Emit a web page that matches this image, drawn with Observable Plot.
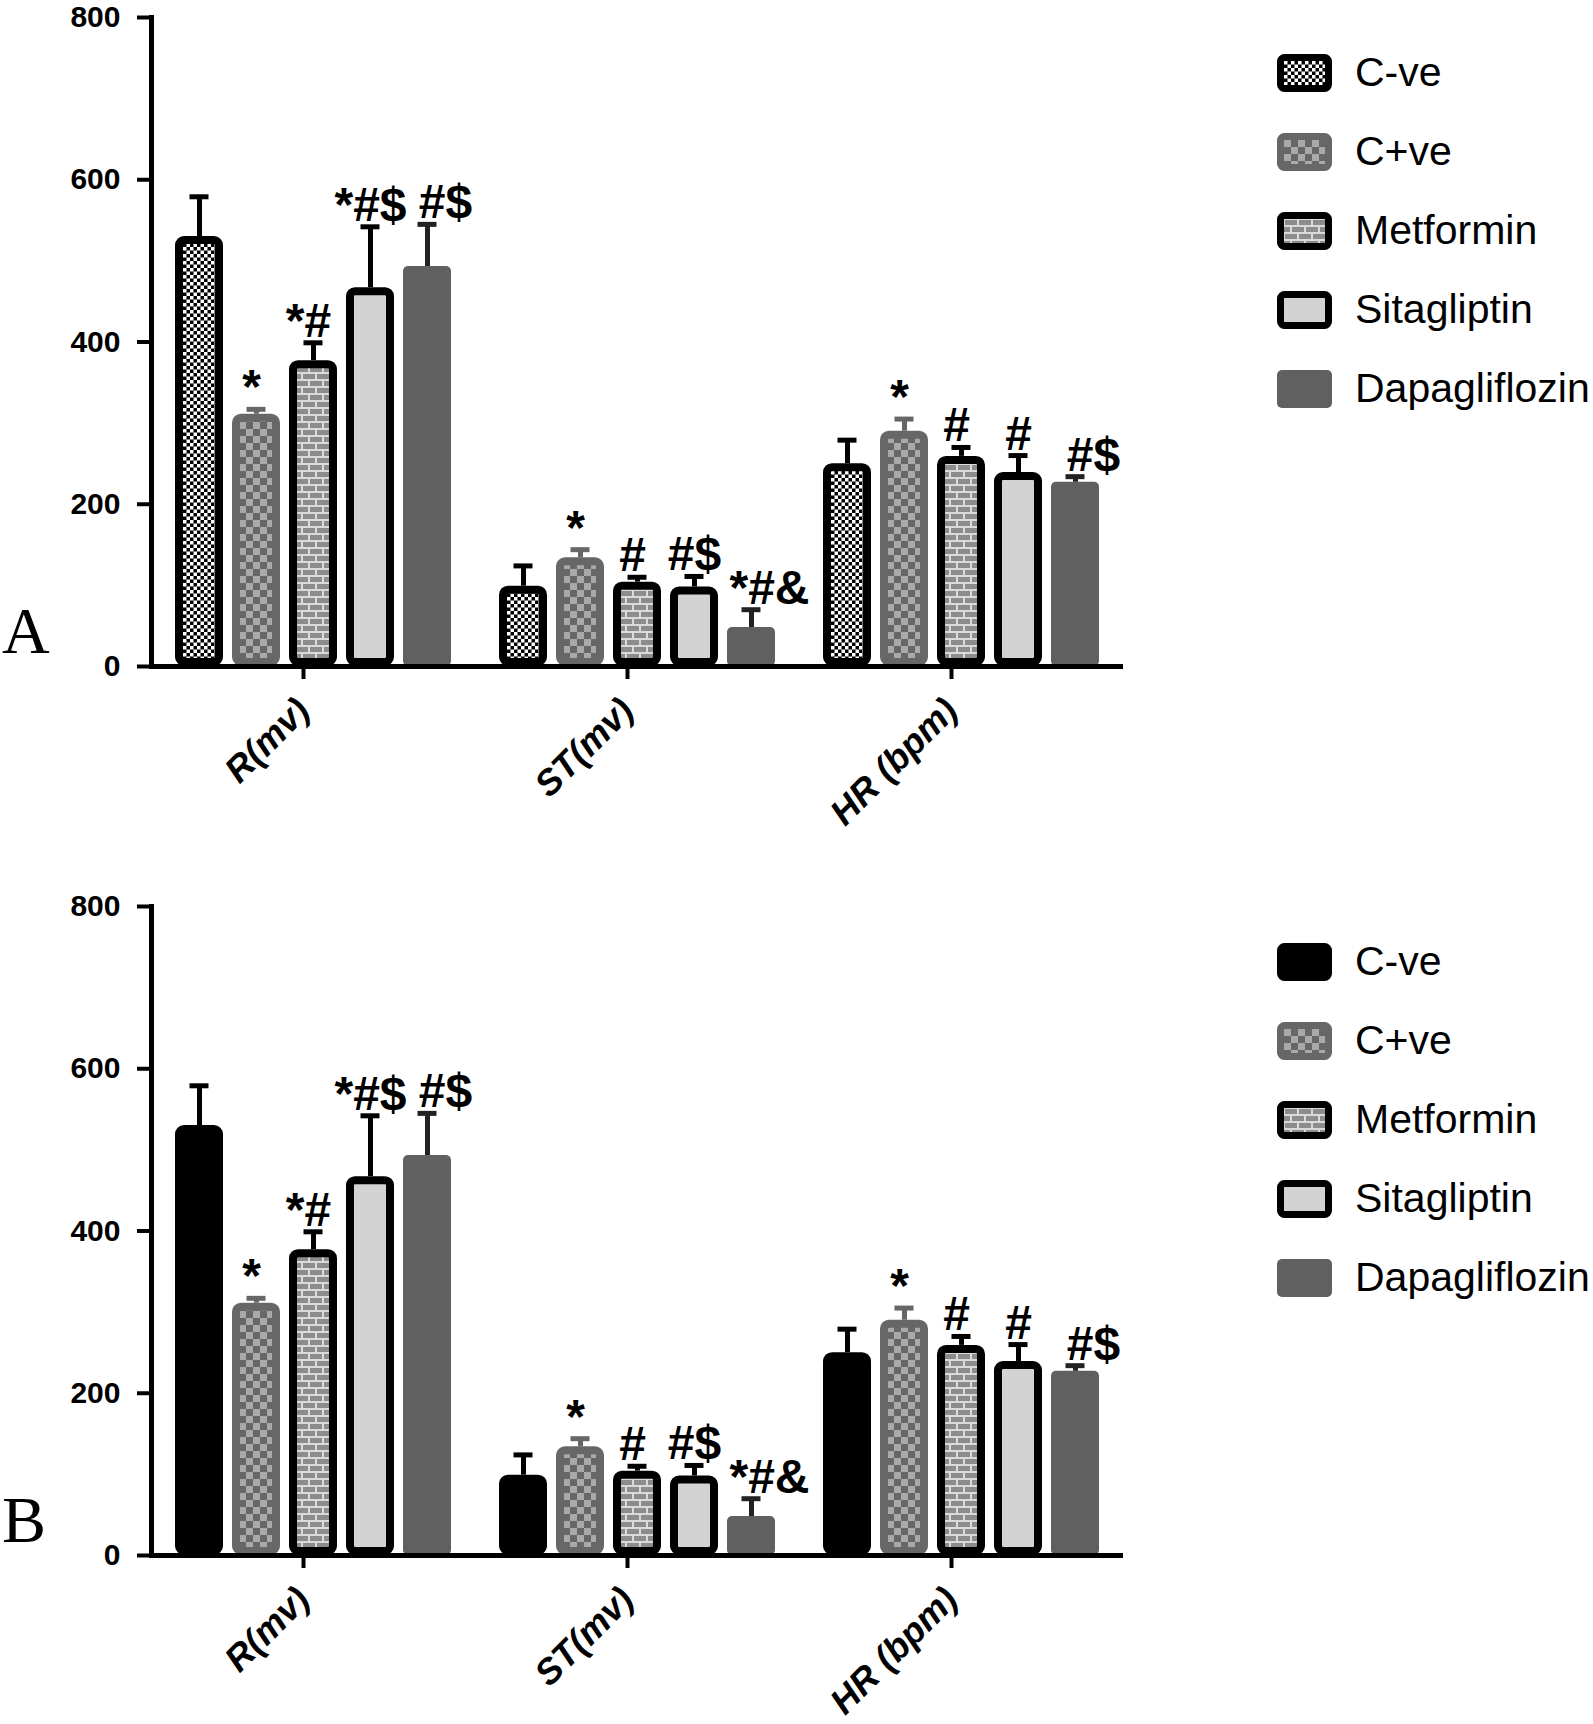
<!DOCTYPE html>
<html>
<head>
<meta charset="utf-8">
<script src="https://cdn.jsdelivr.net/npm/d3@7"></script>
<script src="https://cdn.jsdelivr.net/npm/@observablehq/plot@0.6"></script>
<style>
  body { margin: 0; background: #fff; }
  #page { position: relative; width: 1593px; height: 1724px; overflow: hidden; background: #fff;
          font-family: "Liberation Sans", Arial, sans-serif; color: #000; }
  .panel { position: absolute; left: 0; width: 1593px; height: 895px; }
  .panel svg.plot { position: absolute; left: 0; top: 0; }
  .letter { position: absolute; left: 2px; font-family: "Liberation Serif", "Times New Roman", serif;
            font-size: 66px; line-height: 1; }
  .legend { position: absolute; left: 1277px; top: 0; }
  .legend .row { position: absolute; left: 0; height: 38px; display: flex; align-items: center; white-space: nowrap; }
  .legend .row span { font-size: 41px; margin-left: 23px; line-height: 1; }
</style>
</head>
<body>
<svg width="0" height="0" style="position:absolute">
  <defs>
    <pattern id="pCheckFine" width="7" height="7" patternUnits="userSpaceOnUse">
      <rect width="7" height="7" fill="#000"/>
      <rect width="3.5" height="3.5" fill="#fff"/>
      <rect x="3.5" y="3.5" width="3.5" height="3.5" fill="#fff"/>
    </pattern>
    <pattern id="pCheckGray" width="14" height="14" patternUnits="userSpaceOnUse">
      <rect width="14" height="14" fill="#676767"/>
      <rect width="7" height="7" fill="#a9a9a9"/>
      <rect x="7" y="7" width="7" height="7" fill="#a9a9a9"/>
    </pattern>
    <pattern id="pBrick" width="14" height="14" patternUnits="userSpaceOnUse">
      <rect width="14" height="14" fill="#dadada"/>
      <rect x="1" y="1" width="12" height="5" fill="#8c8c8c"/>
      <rect x="-6" y="8" width="12" height="5" fill="#8c8c8c"/>
      <rect x="8" y="8" width="12" height="5" fill="#8c8c8c"/>
    </pattern>
  </defs>
</svg>
<div id="page"></div>
<script>
// ---------------- data ----------------
const categories = ["R(mv)", "ST(mv)", "HR (bpm)"];
const groups = ["C-ve", "C+ve", "Metformin", "Sitagliptin", "Dapagliflozin"];
const meanR  = [530, 311, 377, 467, 493];
const sdR    = [49, 6, 22, 75, 52];
const meanST = [99, 134, 104, 98, 48];
const sdST   = [25, 10, 6, 13, 22];
const meanHR = [250, 290, 259, 239, 227];
const sdHR   = [29, 15, 11, 21, 7];
const sigR   = ["", "*", "*#", "*#$", "#$"];
const sigST  = ["", "*", "#", "#$", "*#&"];
const sigHR  = ["", "*", "#", "#", "#$"];
const yTicks = [0, 200, 400, 600, 800];
const panelLetters = ["A", "B"];

// ---------------- table built from arrays ----------------
const means = [meanR, meanST, meanHR];
const sds = [sdR, sdST, sdHR];
const sigs = [sigR, sigST, sigHR];
const rows = categories.flatMap((c, ci) => groups.map((g, gi) => ({
  cat: c, group: g, mean: means[ci][gi], sd: sds[ci][gi], sig: sigs[ci][gi]
})));

// ---------------- styles ----------------
const barStyle = {
  "C-ve":          {stroke: "#000",    sw: 8, err: "#000",    labelDx: 0},
  "C+ve":          {stroke: "#676767", sw: 8, err: "#676767", labelDx: -5},
  "Metformin":     {stroke: "#000",    sw: 8, err: "#000",    labelDx: -5},
  "Sitagliptin":   {stroke: "#000",    sw: 8, err: "#000",    labelDx: 0},
  "Dapagliflozin": {stroke: "none",    sw: 0, err: "#222",    labelDx: 18}
};
const fillsA = {
  "C-ve": "url(#pCheckFine)", "C+ve": "url(#pCheckGray)", "Metformin": "url(#pBrick)",
  "Sitagliptin": "#d3d3d3", "Dapagliflozin": "#606060"
};
const fillsB = Object.assign({}, fillsA, {"C-ve": "#000"});

function makePlot(fills) {
  const marks = [];
  groups.forEach(g => {
    const st = barStyle[g];
    const sub = rows.filter(d => d.group === g);
    marks.push(Plot.ruleX(sub, {fx: "cat", x: "group", y1: "mean", y2: d => d.mean + d.sd,
      stroke: st.err, strokeWidth: 5}));
    marks.push(Plot.tickY(sub, {fx: "cat", x: "group", y: d => d.mean + d.sd,
      stroke: st.err, strokeWidth: 5, insetLeft: 14.5, insetRight: 14.5}));
    marks.push(Plot.barY(sub, {fx: "cat", x: "group", y: "mean", fill: fills[g],
      stroke: st.stroke, strokeWidth: st.sw, inset: st.sw / 2, rx: 5}));
    marks.push(Plot.text(sub, {fx: "cat", x: "group", y: d => d.mean + d.sd, text: "sig",
      fontSize: 48, fontWeight: "bold", lineAnchor: "bottom", dy: -6, dx: st.labelDx, fill: "#000"}));
  });
  marks.push(Plot.ruleY([0], {strokeWidth: 5, stroke: "#000"}));
  marks.push(Plot.frame({anchor: "left", facetAnchor: "left", strokeWidth: 5, stroke: "#000"}));
  marks.push(Plot.axisY({ticks: yTicks, tickSize: 14, tickPadding: 17, strokeWidth: 4,
    fontSize: 30, fontWeight: "bold", label: null, tickFormat: d => String(d)}));
  marks.push(Plot.axisFx({anchor: "bottom", tickSize: 13, strokeWidth: 4, tickRotate: -45,
    tickPadding: 25, dx: -10, fontSize: 36, fontWeight: "bold", fontStyle: "italic", label: null}));

  const svg = Plot.plot({
    width: 1140, height: 860,
    marginLeft: 150, marginRight: 16, marginTop: 15, marginBottom: 196,
    style: {fontFamily: "'Liberation Sans', Arial, sans-serif", color: "#000", background: "transparent", overflow: "visible"},
    fx: {domain: categories, padding: 0, axis: null, label: null},
    x: {domain: groups, paddingInner: 0.162, paddingOuter: 0.4125, axis: null},
    y: {domain: [0, 800], axis: null},
    marks
  });
  svg.classList.add("plot");
  return svg;
}

function makeLegend(fills) {
  const lg = d3.create("div").attr("class", "legend");
  groups.forEach((g, i) => {
    const st = barStyle[g];
    const row = lg.append("div").attr("class", "row").style("top", (51.5 + 79 * i) + "px");
    const s = row.append("svg").attr("width", 55).attr("height", 38);
    if (st.sw > 0) {
      s.append("rect").attr("x", 3.5).attr("y", 3.5).attr("width", 48).attr("height", 31).attr("rx", 4)
        .attr("fill", fills[g]).attr("stroke", st.stroke).attr("stroke-width", 7);
    } else {
      s.append("rect").attr("width", 55).attr("height", 38).attr("rx", 5).attr("fill", fills[g]);
    }
    row.append("span").text(g);
  });
  return lg.node();
}

const page = document.getElementById("page");
const panelTops = [2, 891];
[fillsA, fillsB].forEach((fills, pi) => {
  const panel = document.createElement("div");
  panel.className = "panel";
  panel.style.top = panelTops[pi] + "px";
  panel.appendChild(makePlot(fills));
  panel.appendChild(makeLegend(fills));
  const letter = document.createElement("div");
  letter.className = "letter";
  letter.style.top = "596px";
  letter.textContent = panelLetters[pi];
  panel.appendChild(letter);
  page.appendChild(panel);
});
</script>
</body>
</html>
